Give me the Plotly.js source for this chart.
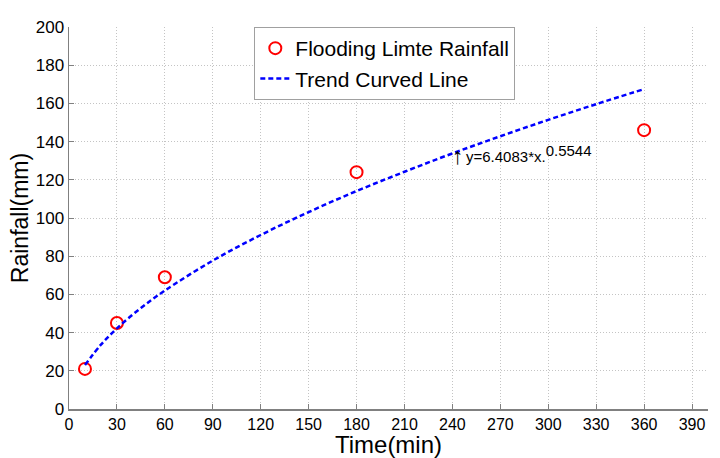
<!DOCTYPE html>
<html>
<head>
<meta charset="utf-8">
<script src="https://cdn.plot.ly/plotly-3.0.1.min.js"></script>
<style>html,body{margin:0;padding:0;background:#fff;}#chart{width:720px;height:458px;}</style>
</head>
<body>
<div id="chart"></div>
<script>
// Observed flooding limit rainfall
var obsTime = [10, 30, 60, 180, 360];
var obsRain = [21, 45, 69, 124, 146];
// Trend curve
var trendTime = [10, 20, 30, 45, 60, 90, 120, 150, 180, 210, 240, 270, 300, 330, 360];
var trendRain = [23.0, 33.7, 42.2, 52.9, 62.0, 77.7, 91.1, 103.1, 114.1, 124.2, 133.8, 142.8, 151.4, 159.6, 167.5];
var xTicks = [0, 30, 60, 90, 120, 150, 180, 210, 240, 270, 300, 330, 360, 390];
var yTicks = [0, 20, 40, 60, 80, 100, 120, 140, 160, 180, 200];
var annoX = 243, annoY = 134.7;

var font = 'Liberation Sans, Arial, sans-serif';
var traces = [
  {x: obsTime, y: obsRain, mode: 'markers', type: 'scatter', name: 'Flooding Limte Rainfall',
   marker: {symbol: 'circle-open', size: 12, color: '#ff0000', line: {width: 2, color: '#ff0000'}}},
  {x: trendTime, y: trendRain, mode: 'lines', type: 'scatter', name: 'Trend Curved Line',
   line: {color: '#0000ff', width: 2.5, dash: '5px,3px', shape: 'spline'}}
];
var axisCommon = {
  showline: true, linecolor: '#808080', linewidth: 1.5,
  ticks: 'inside', ticklen: 5, tickcolor: '#808080',
  showgrid: true, gridcolor: '#c4c4c4', griddash: '1px,2px', gridwidth: 1,
  zeroline: false, tickfont: {family: font, size: 16, color: '#000'}
};
var layout = {
  width: 720, height: 458,
  margin: {l: 69, r: 12, t: 27, b: 49},
  paper_bgcolor: '#fff', plot_bgcolor: '#fff',
  showlegend: true,
  legend: {x: 0.29, y: 1, xanchor: 'left', yanchor: 'top',
    bordercolor: '#a0a0a0', borderwidth: 1, bgcolor: '#fff',
    font: {family: font, size: 21, color: '#000'}, tracegroupgap: 0, itemwidth: 30},
  xaxis: Object.assign({}, axisCommon, {range: [0, 400], tickvals: xTicks, ticktext: xTicks.map(String),
    title: {text: 'Time(min)', font: {family: font, size: 24, color: '#000'}, standoff: 0}}),
  yaxis: Object.assign({}, axisCommon, {range: [0, 200], tickvals: yTicks, ticktext: yTicks.map(String),
    tickfont: {family: font, size: 17, color: '#000'},
    title: {text: 'Rainfall(mm)', font: {family: font, size: 23, color: '#000'}, standoff: 0}}),
  annotations: [
    {x: annoX, y: annoY, xref: 'x', yref: 'y', showarrow: false,
     xanchor: 'left', yanchor: 'top', xshift: -7, yshift: 11,
     text: '↑', font: {family: font, size: 23, color: '#000'}},
    {x: annoX, y: annoY, xref: 'x', yref: 'y', showarrow: false,
     xanchor: 'left', yanchor: 'top', xshift: 7, yshift: 12,
     text: 'y=6.4083*x.<sup><span style="font-size:15px">0.5544</span></sup>', font: {family: font, size: 15, color: '#000'}}]
};
Plotly.newPlot('chart', traces, layout, {displayModeBar: false, staticPlot: true});
</script>
</body>
</html>
